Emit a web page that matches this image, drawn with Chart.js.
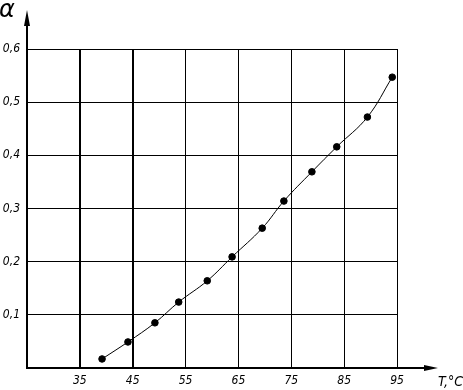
<!DOCTYPE html>
<html lang="ru">
<head>
    <meta charset="UTF-8">
    <title>alpha_vs_T</title>
    <script src="https://cdn.jsdelivr.net/npm/chart.js"></script>
    <style>
        html, body { margin: 0; padding: 0; background: #fff; }
        #wrap { width: 463px; height: 390px; position: relative; }
    </style>
</head>
<body>
    <div id="wrap"><canvas id="alphaChart" width="463" height="390"></canvas></div>
    <script>
        // temperature, °C
        var temps = [39.2, 44.1, 49.2, 53.7, 59.1, 63.8, 69.5, 73.6, 78.9, 83.6, 89.4, 94.1];
        // alpha
        var alphas = [0.017, 0.049, 0.085, 0.124, 0.164, 0.209, 0.263, 0.314, 0.369, 0.416, 0.472, 0.547];
        var xTicks = [25, 35, 45, 55, 65, 75, 85, 95];
        var yTicks = [0, 0.1, 0.2, 0.3, 0.4, 0.5, 0.6];

        var tickFont = { family: '"Liberation Sans Narrow", "DejaVu Sans Condensed", sans-serif', size: 12, style: 'italic' };

        var arrows = {
            id: 'arrows',
            afterDraw: function (chart) {
                var ctx = chart.ctx, a = chart.chartArea;
                ctx.save();
                ctx.strokeStyle = '#000';
                ctx.fillStyle = '#000';
                ctx.lineWidth = 2;
                // y axis up
                ctx.beginPath();
                ctx.moveTo(a.left, a.top);
                ctx.lineTo(a.left, 22);
                ctx.stroke();
                ctx.beginPath();
                ctx.moveTo(a.left, 10);
                ctx.lineTo(a.left - 3, 26);
                ctx.lineTo(a.left + 3, 26);
                ctx.closePath();
                ctx.fill();
                // x axis right
                ctx.beginPath();
                ctx.moveTo(a.right, a.bottom);
                ctx.lineTo(426, a.bottom);
                ctx.stroke();
                ctx.beginPath();
                ctx.moveTo(438, a.bottom);
                ctx.lineTo(424, a.bottom - 3);
                ctx.lineTo(424, a.bottom + 3);
                ctx.closePath();
                ctx.fill();
                // axis titles
                ctx.font = 'italic 24px "DejaVu Sans", sans-serif';
                ctx.textBaseline = 'alphabetic';
                ctx.fillText('α', -1, 17);
                ctx.font = 'italic 14px "Liberation Sans Narrow", "DejaVu Sans Condensed", sans-serif';
                ctx.fillText('T,°C', 438, 386);
                ctx.restore();
            }
        };

        var ctx = document.getElementById('alphaChart').getContext('2d');
        var alphaChart = new Chart(ctx, {
            type: 'scatter',
            data: {
                datasets: [{
                    data: temps.map(function (t, i) { return { x: t, y: alphas[i] }; }),
                    showLine: true,
                    borderColor: '#000',
                    backgroundColor: '#000',
                    borderWidth: 1,
                    pointRadius: 3.3,
                    pointHoverRadius: 3.3,
                    tension: 0.4
                }]
            },
            options: {
                responsive: false,
                animation: false,
                layout: { padding: { top: 49, right: 66, left: 0, bottom: 0 } },
                plugins: { legend: { display: false }, tooltip: { enabled: false } },
                scales: {
                    x: {
                        type: 'linear',
                        min: 25,
                        max: 95,
                        afterBuildTicks: function (s) { s.ticks = xTicks.map(function (v) { return { value: v }; }); },
                        afterFit: function (s) { s.height = 22; },
                        border: { color: '#000', width: 2 },
                        grid: {
                            color: '#000',
                            drawTicks: false,
                            lineWidth: function (c) { return (c.tick && (c.tick.value === 35 || c.tick.value === 45)) ? 2 : 1; }
                        },
                        ticks: {
                            color: '#000',
                            font: tickFont,
                            padding: 6,
                            maxRotation: 0,
                            callback: function (v) { return v === 25 ? '' : v; }
                        }
                    },
                    y: {
                        min: 0,
                        max: 0.6,
                        afterBuildTicks: function (s) { s.ticks = yTicks.map(function (v) { return { value: v }; }); },
                        afterFit: function (s) { s.width = 27; },
                        border: { color: '#000', width: 2 },
                        grid: { color: '#000', drawTicks: false, lineWidth: 1 },
                        ticks: {
                            color: '#000',
                            font: tickFont,
                            padding: 7,
                            callback: function (v) { return v === 0 ? '' : v.toFixed(1).replace('.', ','); }
                        }
                    }
                }
            },
            plugins: [arrows]
        });
    </script>
</body>
</html>
